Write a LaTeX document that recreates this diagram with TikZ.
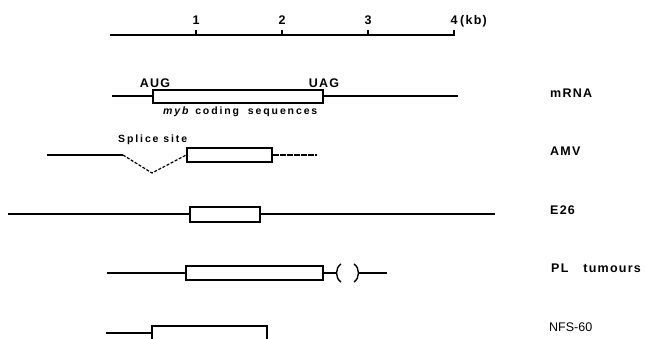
\documentclass[tikz,border=0pt]{standalone}
\usepackage{fontspec}
\setmainfont{Liberation Sans}
\newfontfamily\labfont[LetterSpace=10]{Liberation Sans}
\newfontfamily\smallfont[LetterSpace=18]{Liberation Sans}
\newfontfamily\plainfont{Liberation Sans}
\begin{document}
\begin{tikzpicture}[x=1pt,y=-1pt,
  ln/.style={line width=1.3pt},
  dln/.style={line width=1.2pt,dash pattern=on 3pt off 1.6pt},
  cbox/.style={draw,line width=1.5pt,fill=white,inner sep=0pt,rectangle},
  lab/.style={anchor=base west,inner sep=0pt,font=\labfont\bfseries\fontsize{12.5}{14}\selectfont},
  tlab/.style={anchor=base,inner sep=0pt,font=\labfont\bfseries\fontsize{12.5}{14}\selectfont},
  small/.style={anchor=base west,inner sep=0pt,font=\smallfont\bfseries\fontsize{10.5}{12}\selectfont}]
\useasboundingbox (0,0) rectangle (646,338);
\fill[white] (0,0) rectangle (646,338);
\clip (0,0) rectangle (646,338);
% scale
\coordinate (s0) at (110,35);
\coordinate (s4) at (455,35);
\draw[ln] (s0) -- (s4);
\foreach \k/\x in {1/196,2/282,3/368,4/454}{
  \coordinate (t\k) at (\x,35);
  \draw[ln] (t\k) -- ++(0,-5);
  \node[tlab] (tl\k) at (\x,24) {\k};
}
\node[lab] (kb) at (460,24) {(kb)};
% mRNA
\coordinate (m0) at (112,96);
\coordinate (m1) at (458,96);
\draw[ln] (m0) -- (m1);
\node[cbox,minimum width=170pt,minimum height=13pt] (mbox) at (238,96.5) {};
\node[tlab] (aug) at (155,87) {AUG};
\node[tlab] (uag) at (324,87) {UAG};
\node[small] (myb) at (163,114) {\textit{myb} coding\hspace{4pt} sequences};
\node[lab] (lmrna) at (550,97) {mRNA};
% AMV
\coordinate (a0) at (47,155);
\coordinate (a1) at (123,155);
\coordinate (a2) at (152,173);
\node[cbox,minimum width=85pt,minimum height=14pt] (abox) at (229.5,155) {};
\coordinate (a3) at (317,155);
\draw[ln] (a0) -- (a1);
\draw[dln] (a1) -- (a2) -- (abox.west);
\draw[line width=1.1pt,dash pattern=on 6pt off 1pt] (abox.east) -- (a3);
\node[small] (splice) at (118,142) {Splice site};
\node[lab] (lamv) at (550,155) {AMV};
% E26
\coordinate (e0) at (8,214);
\coordinate (e1) at (495,214);
\draw[ln] (e0) -- (e1);
\node[cbox,minimum width=70pt,minimum height=15pt] (ebox) at (225,214.5) {};
\node[lab] (le26) at (550,214) {E26};
% PL tumours
\coordinate (p0) at (107,273);
\node[cbox,minimum width=137pt,minimum height=14pt] (pbox) at (254.5,273) {};
\coordinate (p1) at (336,273);
\coordinate (p2) at (359,273);
\coordinate (p3) at (387,273);
\draw[ln] (p0) -- (pbox.west);
\draw[ln] (pbox.east) -- (p1);
\draw[ln] (p2) -- (p3);
\draw[line width=1.4pt] (341,264) .. controls (335,268) and (335,278) .. (341,282);
\draw[line width=1.4pt] (354,264) .. controls (360,268) and (360,278) .. (354,282);
\node[lab] (lpl) at (551,272) {PL\hspace{15pt}tumours};
% NFS-60
\coordinate (n0) at (106,333);
\node[cbox,minimum width=115pt,minimum height=30pt] (nbox) at (209.5,341) {};
\draw[ln] (n0) -- (nbox.west |- n0);
\node[anchor=base west,inner sep=0pt,font=\plainfont\fontsize{12.5}{14}\selectfont] (lnfs) at (549,331) {NFS-60};
\end{tikzpicture}
\end{document}
